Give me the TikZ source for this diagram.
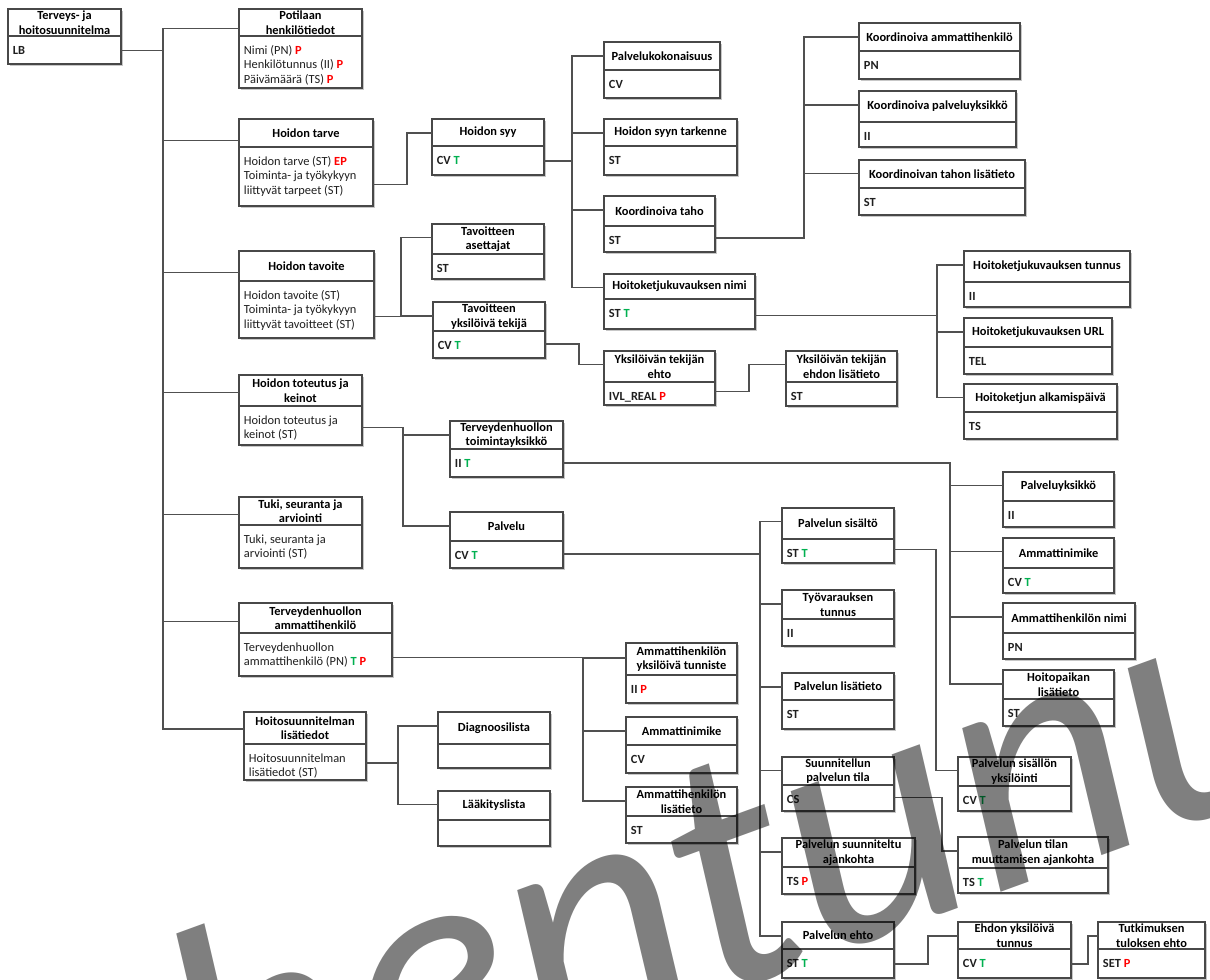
\documentclass[tikz,border=0pt]{standalone}
\usepackage{fontspec}
\setmainfont{Carlito}
\usetikzlibrary{calc,fit}

\definecolor{frame}{HTML}{484848}
\definecolor{wire}{HTML}{505050}
\definecolor{req}{HTML}{FF0000}
\definecolor{tag}{HTML}{00B050}

\newcommand\bxfont{\fontsize{9.3}{10.9}\selectfont}
\newcommand\hdfont{\fontsize{9.3}{10.9}\selectfont\bfseries}
\newcommand\rP{\textcolor{req}{\textbf{P}}}
\newcommand\rEP{\textcolor{req}{\textbf{EP}}}
\newcommand\gT{\textcolor{tag}{\textbf{T}}}
\newcommand\cd[1]{\textbf{#1}}

% class box: name, x1, y1, x2, y2, y of divider, header, body
\newcommand\ubox[8]{%
  \fill[boxshadow] (#2+2,#3+2) rectangle (#4+2,#5+2);
  \node[boxframe, fit={(#2,#3) (#4,#5)}] (#1) {};
  \draw[frameline] (#2,#6) -- (#4,#6);
  \node[hdrtext] at ($(#2,#3)!0.5!(#4,#6)$) {#7};
  \node[bodytext] at (#2,#6+7.8) {\strut#8};
  \coordinate (#1-in) at ($(#1.north west)!0.25!(#1.south west)$);
  \coordinate (#1-out) at ($(#1.north east)!0.75!(#1.south east)$);
}
% elbow connector: parent, bus, child
\newcommand\link[3]{\draw[wireline] (#1-out) -| (#2 |- #3-in) -- (#3-in);}

\begin{document}
\begin{tikzpicture}[x=0.75pt,y=-0.75pt,
  boxshadow/.style={fill=black!22},
  boxframe/.style={draw=frame, line width=1.1pt, fill=white, inner sep=0pt, outer sep=0pt},
  frameline/.style={draw=frame, line width=1.1pt},
  hdrtext/.style={font=\hdfont, align=center, inner sep=0pt, text=black},
  bodytext/.style={font=\bxfont, align=left, anchor=north west, inner xsep=3.5pt, inner ysep=0pt, text=black!88},
  wireline/.style={draw=wire, line width=0.95pt}]
\useasboundingbox (0,0) rectangle (1210,979);
\fill[white] (0,0) rectangle (1210,979);

% first level
\ubox{root}{8}{9}{121}{64}{36}{Terveys- ja\\hoitosuunnitelma}{\cd{LB}}
\ubox{pot}{239}{9}{362}{88}{36}{Potilaan\\henkilötiedot}{Nimi (PN) \rP\\Henkilötunnus (II) \rP\\Päivämäärä (TS) \rP}
\ubox{tarve}{239}{119}{373}{206}{147}{Hoidon tarve}{Hoidon tarve (ST) \rEP\\Toiminta- ja työkykyyn\\liittyvät tarpeet (ST)}
\ubox{tavo}{239}{251}{374}{338}{281}{Hoidon tavoite}{Hoidon tavoite (ST)\\Toiminta- ja työkykyyn\\liittyvät tavoitteet (ST)}
\ubox{tote}{239}{375}{362}{445}{406}{Hoidon toteutus ja\\keinot}{Hoidon toteutus ja\\keinot (ST)}
\ubox{tuki}{239}{497}{362}{568}{525}{Tuki, seuranta ja\\arviointi}{Tuki, seuranta ja\\arviointi (ST)}
\ubox{tamm}{239}{603}{392}{676}{633}{Terveydenhuollon\\ammattihenkilö}{Terveydenhuollon\\ammattihenkilö (PN) \gT\ \rP}
\ubox{hlis}{244}{712}{366}{780}{744}{Hoitosuunnitelman\\lisätiedot}{Hoitosuunnitelman\\lisätiedot (ST)}

% second level
\ubox{syy}{432}{119}{544}{175}{146}{Hoidon syy}{\cd{CV} \gT}
\ubox{tase}{432}{224}{544}{279}{254}{Tavoitteen\\asettajat}{\cd{ST}}
\ubox{tyks}{433}{302}{545}{358}{331}{Tavoitteen\\yksilöivä tekijä}{\cd{CV} \gT}
\ubox{ttoim}{450}{421}{563}{477}{449}{Terveydenhuollon\\toimintayksikkö}{\cd{II} \gT}
\ubox{palv}{450}{512}{563}{568}{541}{Palvelu}{\cd{CV} \gT}
\ubox{diag}{438}{712}{550}{768}{744}{Diagnoosilista}{}
\ubox{laak}{438}{791}{550}{846}{820}{Lääkityslista}{}

% third level
\ubox{pkok}{604}{42}{720}{98}{70}{Palvelukokonaisuus}{\cd{CV}}
\ubox{starke}{604}{119}{737}{175}{146}{Hoidon syyn tarkenne}{\cd{ST}}
\ubox{ktaho}{604}{196}{715}{252}{226}{Koordinoiva taho}{\cd{ST}}
\ubox{hnimi}{604}{274}{755}{329}{299}{Hoitoketjukuvauksen nimi}{\cd{ST} \gT}
\ubox{yteh}{604}{351}{715}{405}{382}{Yksilöivän tekijän\\ehto}{\cd{IVL\_REAL} \rP}
\ubox{ayks}{626}{643}{737}{703}{675}{Ammattihenkilön\\yksilöivä tunniste}{\cd{II} \rP}
\ubox{anima}{626}{717}{737}{773}{745}{Ammattinimike}{\cd{CV}}
\ubox{alis}{626}{787}{737}{843}{816}{Ammattihenkilön\\lisätieto}{\cd{ST}}

% fourth level
\ubox{kamm}{859}{23}{1020}{79}{51}{Koordinoiva ammattihenkilö}{\cd{PN}}
\ubox{kpalv}{859}{91}{1016}{147}{122}{Koordinoiva palveluyksikkö}{\cd{II}}
\ubox{klis}{859}{160}{1025}{215}{188}{Koordinoivan tahon lisätieto}{\cd{ST}}
\ubox{yehl}{786}{351}{897}{406}{382}{Yksilöivän tekijän\\ehdon lisätieto}{\cd{ST}}
\ubox{htun}{964}{251}{1130}{307}{282}{Hoitoketjukuvauksen tunnus}{\cd{II}}
\ubox{hurl}{964}{318}{1112}{374}{347}{Hoitoketjukuvauksen URL}{\cd{TEL}}
\ubox{halk}{964}{384}{1117}{439}{412}{Hoitoketjun alkamispäivä}{\cd{TS}}

% service branch
\ubox{psis}{782}{508}{894}{563}{539}{Palvelun sisältö}{\cd{ST} \gT}
\ubox{tyov}{782}{590}{894}{646}{619}{Työvarauksen\\tunnus}{\cd{II}}
\ubox{plis}{782}{673}{894}{729}{700}{Palvelun lisätieto}{\cd{ST}}
\ubox{sutila}{782}{757}{894}{811}{785}{Suunnitellun\\palvelun tila}{\cd{CS}}
\ubox{psaj}{782}{838}{915}{894}{867}{Palvelun suunniteltu\\ajankohta}{\cd{TS} \rP}
\ubox{pehto}{782}{922}{894}{978}{949}{Palvelun ehto}{\cd{ST} \gT}
\ubox{pyks}{1003}{472}{1114}{527}{501}{Palveluyksikkö}{\cd{II}}
\ubox{animb}{1003}{538}{1114}{593}{568}{Ammattinimike}{\cd{CV} \gT}
\ubox{animi}{1003}{603}{1135}{659}{633}{Ammattihenkilön nimi}{\cd{PN}}
\ubox{hpai}{1003}{670}{1114}{726}{699}{Hoitopaikan\\lisätieto}{\cd{ST}}
\ubox{psy}{958}{757}{1071}{811}{786}{Palvelun sisällön\\yksilöinti}{\cd{CV} \gT}
\ubox{ptma}{958}{837}{1108}{893}{868}{Palvelun tilan\\muuttamisen ajankohta}{\cd{TS} \gT}
\ubox{eyt}{958}{922}{1071}{978}{949}{Ehdon yksilöivä\\tunnus}{\cd{CV} \gT}
\ubox{tte}{1098}{922}{1205}{978}{949}{Tutkimuksen\\tuloksen ehto}{\cd{SET} \rP}

% buses
\coordinate (b-root) at (163,0);
\coordinate (b-tarve) at (407,0);
\coordinate (b-syy) at (572,0);
\coordinate (b-ktaho) at (804,0);
\coordinate (b-hnimi) at (937,0);
\coordinate (b-tavo) at (401,0);
\coordinate (b-tyks) at (579,0);
\coordinate (b-yteh) at (749,0);
\coordinate (b-tote) at (403,0);
\coordinate (b-ttoim) at (950,0);
\coordinate (b-palv) at (760,0);
\coordinate (b-psis) at (936,0);
\coordinate (b-sutila) at (942,0);
\coordinate (b-pehto) at (928,0);
\coordinate (b-eyt) at (1088,0);
\coordinate (b-tamm) at (583,0);
\coordinate (b-hlis) at (398,0);

% connectors
\foreach \c in {pot,tarve,tavo,tote,tuki,tamm,hlis} {\link{root}{b-root}{\c}}
\link{tarve}{b-tarve}{syy}
\foreach \c in {pkok,starke,ktaho,hnimi} {\link{syy}{b-syy}{\c}}
\foreach \c in {kamm,kpalv,klis} {\link{ktaho}{b-ktaho}{\c}}
\foreach \c in {htun,hurl,halk} {\link{hnimi}{b-hnimi}{\c}}
\foreach \c in {tase,tyks} {\link{tavo}{b-tavo}{\c}}
\link{tyks}{b-tyks}{yteh}
\link{yteh}{b-yteh}{yehl}
\foreach \c in {ttoim,palv} {\link{tote}{b-tote}{\c}}
\foreach \c in {pyks,animb,animi,hpai} {\link{ttoim}{b-ttoim}{\c}}
\foreach \c in {psis,tyov,plis,sutila,psaj,pehto} {\link{palv}{b-palv}{\c}}
\link{psis}{b-psis}{psy}
\link{sutila}{b-sutila}{ptma}
\link{pehto}{b-pehto}{eyt}
\link{eyt}{b-eyt}{tte}
\foreach \c in {ayks,anima,alis} {\link{tamm}{b-tamm}{\c}}
\foreach \c in {diag,laak} {\link{hlis}{b-hlis}{\c}}

% status stamp across the sheet
\begin{scope}
\clip (0,0) rectangle (1210,979);
\node[rotate=20, opacity=0.5, text=black, inner sep=0pt,
      font=\fontsize{262}{262}\selectfont\itshape] (stamp) at (533,935) {Vanhentunut};
\end{scope}
\end{tikzpicture}
\end{document}
